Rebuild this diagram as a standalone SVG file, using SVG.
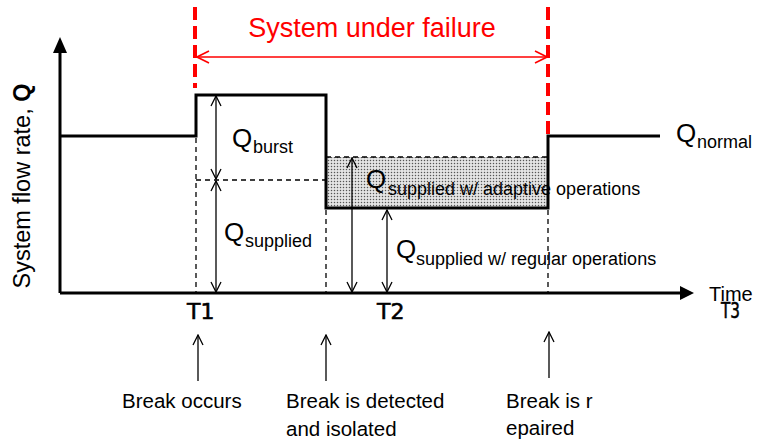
<svg xmlns="http://www.w3.org/2000/svg" width="760" height="443" viewBox="0 0 760 443">
  <style>
    text { font-family: "Liberation Sans", Arial, sans-serif; fill: #000; }
    .red { fill: #ff0000; }
    .tick { font-family: "DejaVu Sans", sans-serif; font-size: 22px; stroke: #000; stroke-width: 0.6; }
    .axis { stroke: #000; stroke-width: 3; fill: none; }
    .flow { stroke: #000; stroke-width: 3; fill: none; stroke-linejoin: miter; }
    .guide { stroke: #000; stroke-width: 1.3; stroke-dasharray: 5 4; fill: none; }
    .dim { stroke: #000; stroke-width: 1.3; fill: none; }
    .failure { stroke: #ff0000; stroke-width: 4; stroke-dasharray: 13 6; fill: none; }
    .span { stroke: #ff0000; stroke-width: 1.6; fill: none; }
    .note { font-size: 20.5px; }
    .big { font-size: 26px; }
    .sub { font-size: 18px; }
  </style>
  <defs>
    <marker id="openHead" viewBox="0 0 12 12" refX="11" refY="6" markerWidth="12" markerHeight="12" markerUnits="userSpaceOnUse" orient="auto-start-reverse">
      <path d="M1,1 L11,6 L1,11" fill="none" stroke="#000" stroke-width="1.3"/>
    </marker>
    <marker id="redHead" viewBox="0 0 14 14" refX="13" refY="7" markerWidth="14" markerHeight="14" markerUnits="userSpaceOnUse" orient="auto-start-reverse">
      <path d="M1,1 L13,7 L1,13" fill="none" stroke="#ff0000" stroke-width="1.6"/>
    </marker>
    <pattern id="dots" width="3" height="3" patternUnits="userSpaceOnUse">
      <rect width="3" height="3" fill="#e4e4e4"/>
      <circle cx="1.5" cy="1.5" r="0.75" fill="#555"/>
    </pattern>
  </defs>

  <!-- axes -->
  <g id="axes">
    <path class="axis" d="M60,293 V52 M60,293 H682"/>
    <polygon points="60,37 53,53 67,53" fill="#000"/>
    <polygon points="694,293 680,286 680,300" fill="#000"/>
    <text transform="translate(30,186) rotate(-90)" text-anchor="middle" font-size="23.5">System flow rate, <tspan font-weight="bold">Q</tspan></text>
    <text x="709" y="301" font-family="DejaVu Sans, sans-serif" font-size="20">Time</text>
    <text class="tick" x="187" y="319">T1</text>
    <text class="tick" x="377" y="319">T2</text>
    <text class="tick" x="721" y="318" textLength="19" lengthAdjust="spacingAndGlyphs">T3</text>
  </g>

  <!-- adaptive-operations band -->
  <g id="adaptive-band">
    <rect x="326" y="157" width="222" height="51" fill="url(#dots)"/>
    <path class="guide" d="M326,157 H548"/>
  </g>

  <!-- failure window -->
  <g id="failure-window">
    <path class="failure" d="M195,7 V88"/>
    <path class="failure" d="M548,7 V138"/>
    <text class="red" x="372" y="37" text-anchor="middle" font-size="27">System under failure</text>
  </g>

  <!-- flow rate curve -->
  <g id="flow-curve">
    <path class="flow" d="M60,136 H196 V95 H326 V208 H548 V136 H660"/>
    <text x="676" y="142"><tspan class="big">Q</tspan><tspan class="sub" x="697" y="148">normal</tspan></text>
  </g>

  <g id="connectors">
    <!-- guide lines -->
    <path class="guide" d="M196,138 V293 M326,210 V293 M548,210 V293 M196,180 H326"/>
    <!-- dimension arrows -->
    <path class="dim" d="M216,96 V179" marker-start="url(#openHead)" marker-end="url(#openHead)"/>
    <path class="dim" d="M216,181 V292" marker-start="url(#openHead)" marker-end="url(#openHead)"/>
    <path class="dim" d="M352,158 V292" marker-start="url(#openHead)" marker-end="url(#openHead)"/>
    <path class="dim" d="M387,210 V292" marker-start="url(#openHead)" marker-end="url(#openHead)"/>
    <!-- failure span -->
    <path class="span" d="M197,57 H547" marker-start="url(#redHead)" marker-end="url(#redHead)"/>
    <!-- event pointers -->
    <path class="dim" d="M198,381 V335" marker-end="url(#openHead)"/>
    <path class="dim" d="M326,381 V335" marker-end="url(#openHead)"/>
    <path class="dim" d="M549,378 V332" marker-end="url(#openHead)"/>
  </g>

  <!-- quantity labels -->
  <g id="q-burst">
    <text x="232" y="147"><tspan class="big">Q</tspan><tspan class="sub" x="253" y="153">burst</tspan></text>
  </g>
  <g id="q-supplied">
    <text x="224" y="241"><tspan class="big">Q</tspan><tspan class="sub" x="245" y="247">supplied</tspan></text>
  </g>
  <g id="q-adaptive">
    <text x="366" y="188"><tspan class="big">Q</tspan><tspan class="sub" x="388" y="195">supplied w/ adaptive operations</tspan></text>
  </g>
  <g id="q-regular">
    <text x="396" y="258"><tspan class="big">Q</tspan><tspan class="sub" x="416" y="265">supplied w/ regular operations</tspan></text>
  </g>

  <!-- event notes -->
  <g id="break-occurs">
    <text class="note" x="122" y="408">Break occurs</text>
  </g>
  <g id="break-detected">
    <text class="note" x="286" y="408">Break is detected</text>
    <text class="note" x="286" y="436">and isolated</text>
  </g>
  <g id="break-repaired">
    <text class="note" x="506" y="408">Break is r</text>
    <text class="note" x="506" y="435">epaired</text>
  </g>
</svg>
